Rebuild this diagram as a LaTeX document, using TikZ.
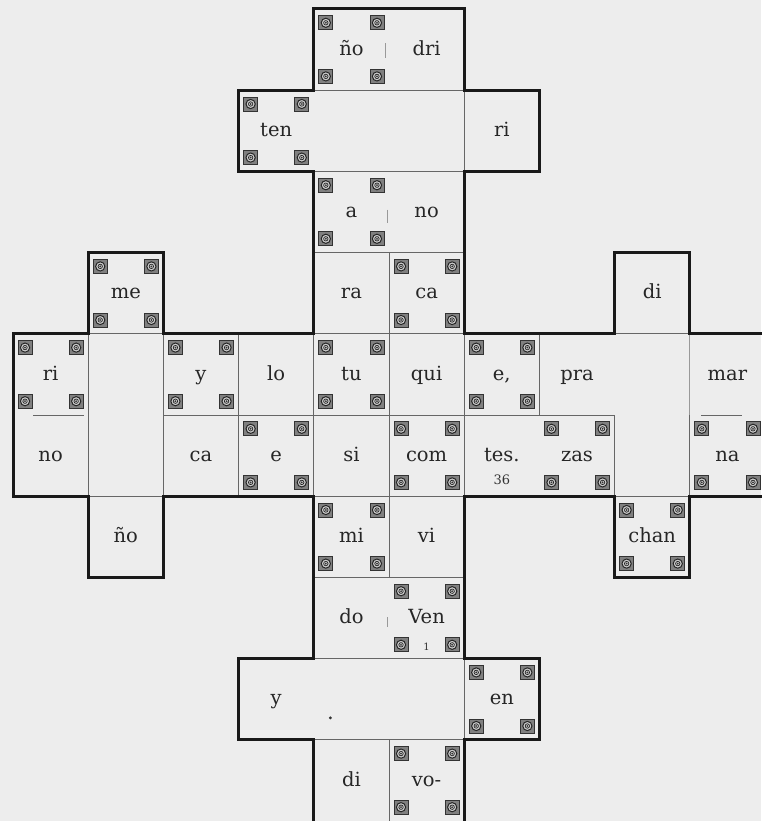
\documentclass[tikz,border=0pt]{standalone}
\usepackage{fontspec}
\setmainfont{DejaVu Serif}
\begin{document}
\begin{tikzpicture}[x=75.2pt,y=-81.2pt,
  cell/.style={font=\fontsize{19.5}{23}\selectfont, text=black!85, inner sep=0pt, anchor=base},
  small/.style={font=\fontsize{13}{16}\selectfont, text=black!80, inner sep=0pt, anchor=base},
  heavyline/.style={line width=3pt, draw=black!90, line join=miter},
  thinline/.style={line width=0.9pt, draw=black!60},
  tickline/.style={line width=0.7pt, draw=black!40},
  orn/.pic={
    \draw[line width=0.7pt, draw=black!80, fill=black!50] (-7pt,-7pt) rectangle (7pt,7pt);
    \draw[line width=1pt, draw=black!85, fill=black!20] (0,0) circle (4.6pt);
    \draw[line width=0.7pt, draw=black!85] (0,0) circle (2.2pt);
    \fill[black!80] (0,0) circle (1pt);
  }
]
% background and page size
\path[fill=black!7] (-0.1729,-0.1108) rectangle (9.9468,10.0);
\useasboundingbox (-0.1729,-0.1108) rectangle (9.9468,10.0);

% thin internal lines
\draw[thinline] (4,1) -- (6,1);
\draw[thinline] (6,1) -- (6,2);
\draw[thinline] (4,2) -- (6,2);
\draw[thinline] (4,3) -- (6,3);
\draw[thinline] (5,3) -- (5,4);
\draw[thinline] (1,4) -- (2,4);
\draw[thinline] (8,4) -- (9,4);
\draw[thinline] (4,4) -- (6,4);
\draw[thinline] (1,4) -- (1,6);
\draw[thinline] (2,4) -- (2,6);
\draw[thinline] (3,4) -- (3,6);
\draw[thinline] (4,4) -- (4,6);
\draw[thinline] (5,4) -- (5,6);
\draw[thinline] (6,4) -- (6,6);
\draw[thinline] (7,4) -- (7,5);
\draw[thinline] (8,5) -- (8,6);
\draw[tickline] (9,4) -- (9,5);
\draw[thinline] (9,5) -- (9,6);
\draw[thinline] (0.27,5) -- (0.95,5);
\draw[thinline] (2,5) -- (8,5);
\draw[thinline] (9.15,5) -- (9.7,5);
\draw[thinline] (1,6) -- (2,6);
\draw[thinline] (8,6) -- (9,6);
\draw[thinline] (4,6) -- (6,6);
\draw[thinline] (5,6) -- (5,7);
\draw[thinline] (4,7) -- (6,7);
\draw[thinline] (4,8) -- (6,8);
\draw[thinline] (6,8) -- (6,9);
\draw[thinline] (4,9) -- (6,9);
\draw[thinline] (5,9) -- (5,10);
% short ticks
\draw[tickline] (4.95,0.42) -- (4.95,0.6);
\draw[tickline] (4.98,2.47) -- (4.98,2.64);
\draw[tickline] (4.98,7.49) -- (4.98,7.61);

% heavy outline
\draw[heavyline] (4,10) -- (4,9) -- (3,9) -- (3,8) -- (4,8) -- (4,6) -- (2,6) -- (2,7) -- (1,7) -- (1,6) -- (0,6) -- (0,4) -- (1,4) -- (1,3) -- (2,3) -- (2,4) -- (4,4) -- (4,2) -- (3,2) -- (3,1) -- (4,1) -- (4,0) -- (6,0) -- (6,1) -- (7,1) -- (7,2) -- (6,2) -- (6,4) -- (8,4) -- (8,3) -- (9,3) -- (9,4) -- (10,4) -- (10,6) -- (9,6) -- (9,7) -- (8,7) -- (8,6) -- (6,6) -- (6,8) -- (7,8) -- (7,9) -- (6,9) -- (6,10);

% ornaments
\foreach \c/\r in {4/0,3/1,4/2,1/3,5/3,0/4,2/4,4/4,6/4,3/5,5/5,7/5,9/5,4/6,8/6,5/7,6/8,5/9} {
  \pic at (\c+0.16,\r+0.17) {orn};
  \pic at (\c+0.84,\r+0.17) {orn};
  \pic at (\c+0.16,\r+0.83) {orn};
  \pic at (\c+0.84,\r+0.83) {orn};
}

% texts
\foreach \c/\r/\t/\n in {4/0/ño/t40,5/0/dri/t50,3/1/ten/t31,6/1/ri/t61,4/2/a/t42,5/2/no/t52,
  1/3/me/t13,4/3/ra/t43,5/3/ca/t53,8/3/di/t83,
  0/4/ri/t04,2/4/y/t24,3/4/lo/t34,4/4/tu/t44,5/4/qui/t54,6/4/{e,}/t64,7/4/pra/t74,9/4/mar/t94,
  0/5/no/t05,2/5/ca/t25,3/5/e/t35,4/5/si/t45,5/5/com/t55,6/5/tes./t65,7/5/zas/t75,9/5/na/t95,
  1/6/ño/t16,4/6/mi/t46,5/6/vi/t56,8/6/chan/t86,
  4/7/do/t47,5/7/Ven/t57,
  3/8/y/t38,6/8/en/t68,
  4/9/di/t49,5/9/vo-/t59} {
  \node[cell] (\n) at (\c+0.5,\r+0.57) {\t};
}
\node[small] (num36) at (6.5,5.85) {36};
\node[small, font=\fontsize{10}{12}\selectfont] (sig1) at (5.5,7.9) {1};
\fill[black!80] (4.22,8.73) circle (1.6pt) coordinate (dot);
\end{tikzpicture}
\end{document}
